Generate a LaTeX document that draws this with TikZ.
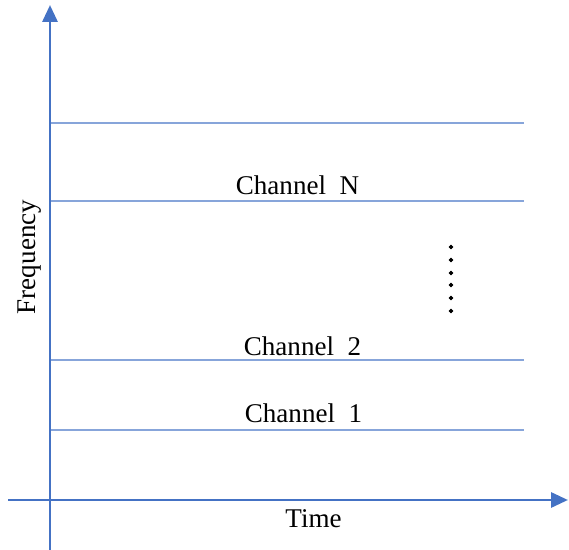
\documentclass[tikz,border=0pt]{standalone}
\usepackage{fontspec}
\setmainfont{Liberation Serif}
\usetikzlibrary{arrows.meta}
\definecolor{axisblue}{RGB}{68,114,196}
\definecolor{chanblue}{RGB}{135,165,218}
\tikzset{
	axis/.style={axisblue, line width=1.7pt, -{Triangle[length=0.34cm,width=0.3cm]}},
	chanline/.style={chanblue, line width=1.1pt},
	lbl/.style={anchor=base, inner sep=0pt, font=\fontsize{15.4}{18}\selectfont}
}
\begin{document}
\begin{tikzpicture}[x=0.02cm, y=-0.02cm]
				\useasboundingbox (0,0) rectangle (569,550);
				\coordinate (ybot) at (50,550);
				\coordinate (ytop) at (50,5);
				\coordinate (xleft) at (8,500);
				\coordinate (xright) at (568,500);
				\draw[chanline] (50,123) -- (524,123);
				\draw[chanline] (50,201) -- (524,201);
				\draw[chanline] (50,360) -- (524,360);
				\draw[chanline] (50,430) -- (524,430);
				\draw[axis] (ybot) -- (ytop);
				\draw[axis] (xleft) -- (xright);
				\node[lbl] (chN) at (297.5,195) {Channel~~N};
				\node[lbl] (ch2) at (302.5,356) {Channel~~2};
				\node[lbl] (ch1) at (303.5,423) {Channel~~1};
				\node[lbl] (time) at (313.5,528) {Time};
				\node[lbl, rotate=90] (freq) at (35,257) {Frequency};
				\foreach \y in {247,260,273,285,298,311}
					\filldraw [black] (451,\y) circle (1.9);
			\end{tikzpicture}
\end{document}
